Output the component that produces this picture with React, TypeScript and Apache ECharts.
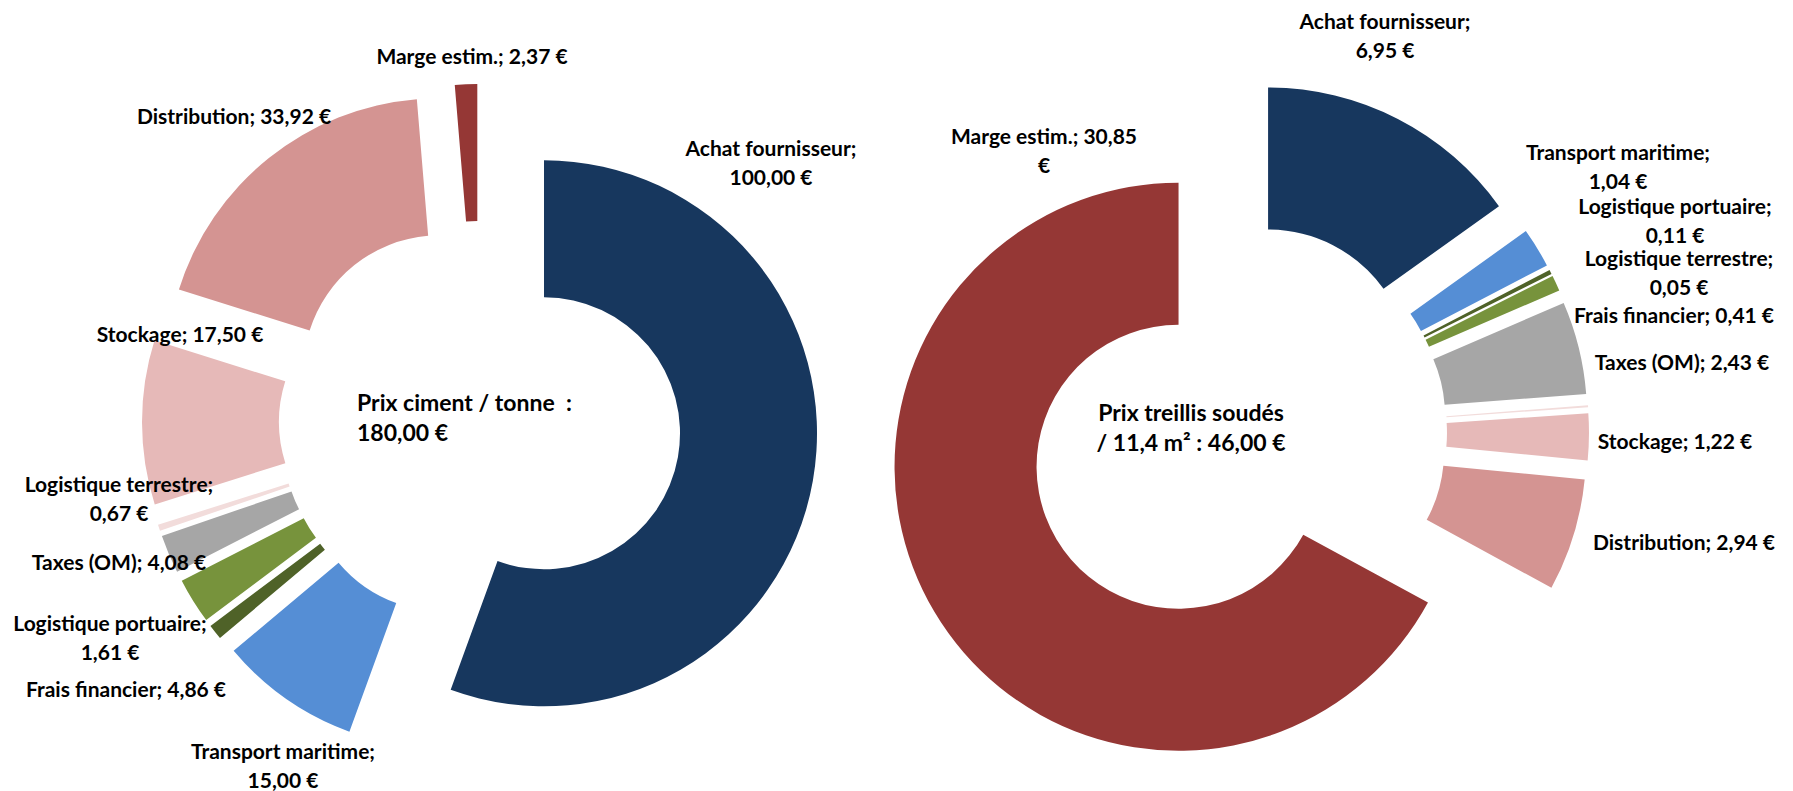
import React, { useEffect, useRef } from 'react';
import * as echarts from 'echarts';

// ---- Data ----
const categories = [
  'Achat fournisseur',
  'Transport maritime',
  'Logistique portuaire',
  'Frais financier',
  'Taxes (OM)',
  'Logistique terrestre',
  'Stockage',
  'Distribution',
  'Marge estim.',
];
const cimentValues = [100.0, 15.0, 1.61, 4.86, 4.08, 0.67, 17.5, 33.92, 2.37];
const treillisValues = [6.95, 1.04, 0.11, 0.41, 2.43, 0.05, 1.22, 2.94, 30.85];
const cimentCenterText = ['Prix ciment / tonne  :', '180,00 €'];
const treillisCenterText = ['Prix treillis soudés', '/ 11,4 m² : 46,00 €'];

const colors = ['#17375E', '#558ED5', '#4F6228', '#77933C', '#A6A6A6', '#F2DCDB', '#E6B9B8', '#D49492', '#953735'];

const FONT = 'Lato, "Liberation Sans", sans-serif';

const fmt = (v: number) => v.toFixed(2).replace('.', ',') + ' €';

// layout
const W = 1793;
const H = 791;
const leftCenter = [480, 422];
const rightCenter = [1237, 432];
const leftRadius = [136, 273];
const rightRadius = [142, 284];

// label block centres relative to the donut centre
const leftLabelOff = [[291, -260], [-197, 343], [-370, 215], [-354, 266], [-361, 139], [-361, 76], [-300, -89], [-246, -307], [-8, -367]];
const rightLabelOff = [[148, -397], [381, -266], [438, -212], [437, -118], [445, -71], [442, -160], [438, 8], [447, 109], [-193, -282]];
// wrap modes: 1 = break after name, 2 = break before €
const leftWrap = [1, 1, 1, 0, 0, 1, 0, 0, 0];
const rightWrap = [1, 1, 1, 0, 0, 1, 0, 0, 2];

function buildSeries(values: number[], center: number[], radius: number[], offsets: number[][], wrap: number[], offset: number) {
  const common = {
    type: 'pie',
    center,
    radius,
    startAngle: 90,
    clockwise: true,
    avoidLabelOverlap: false,
    silent: true,
    emphasis: { disabled: true },
    labelLine: { show: false },
  };
  // exploded visible sectors
  const sectors = {
    ...common,
    selectedMode: 'multiple',
    selectedOffset: offset,
    itemStyle: { borderWidth: 0 },
    label: { show: false },
    data: values.map((v, i) => ({
      name: categories[i],
      value: v,
      selected: true,
      itemStyle: { color: colors[i] },
      select: { itemStyle: { color: colors[i], borderWidth: 0 } },
    })),
  };
  // transparent twin carrying the data labels
  const labels = {
    ...common,
    z: 5,
    itemStyle: { color: 'rgba(0,0,0,0)', borderWidth: 0 },
    label: {
      show: true,
      position: 'outside',
      fontFamily: FONT,
      fontWeight: 'bold',
      fontSize: 21,
      lineHeight: 29,
      color: '#000',
      align: 'center',
      formatter: (p: any) => {
        const w = wrap[p.dataIndex];
        const v = fmt(p.value);
        if (w === 1) return `${p.name};\n${v}`;
        if (w === 2) return `${p.name}; ${v.replace(' €', '')}\n€`;
        return `${p.name}; ${v}`;
      },
    },
    labelLayout: (p: any) => {
      const o = offsets[p.dataIndex];
      return { x: center[0] + o[0], y: center[1] + o[1], align: 'center', verticalAlign: 'middle' };
    },
    data: values.map((v, i) => ({ name: categories[i], value: v })),
  };
  return [sectors, labels];
}

export default function App() {
  const ref = useRef<HTMLDivElement>(null);
  useEffect(() => {
    document.body.style.margin = '0';
    document.body.style.overflow = 'hidden';
    if (!ref.current) return;
    const chart = echarts.init(ref.current, undefined, { renderer: 'svg' });
    chart.setOption({
      animation: false,
      backgroundColor: '#ffffff',
      series: [
        ...buildSeries(cimentValues, leftCenter, leftRadius, leftLabelOff, leftWrap, 65),
        ...buildSeries(treillisValues, rightCenter, rightRadius, rightLabelOff, rightWrap, 68),
      ],
      graphic: [
        {
          type: 'text',
          x: 357,
          y: 417,
          style: {
            text: cimentCenterText.join('\n'),
            font: `bold 23px ${FONT}`,
            lineHeight: 30,
            fill: '#000',
            textAlign: 'left',
            textVerticalAlign: 'middle',
          },
        },
        {
          type: 'text',
          x: 1191,
          y: 427,
          style: {
            text: treillisCenterText.join('\n'),
            font: `bold 23px ${FONT}`,
            lineHeight: 30,
            fill: '#000',
            textAlign: 'center',
            textVerticalAlign: 'middle',
          },
        },
      ],
    });
    return () => chart.dispose();
  }, []);
  return <div ref={ref} style={{ width: W, height: H }} />;
}
